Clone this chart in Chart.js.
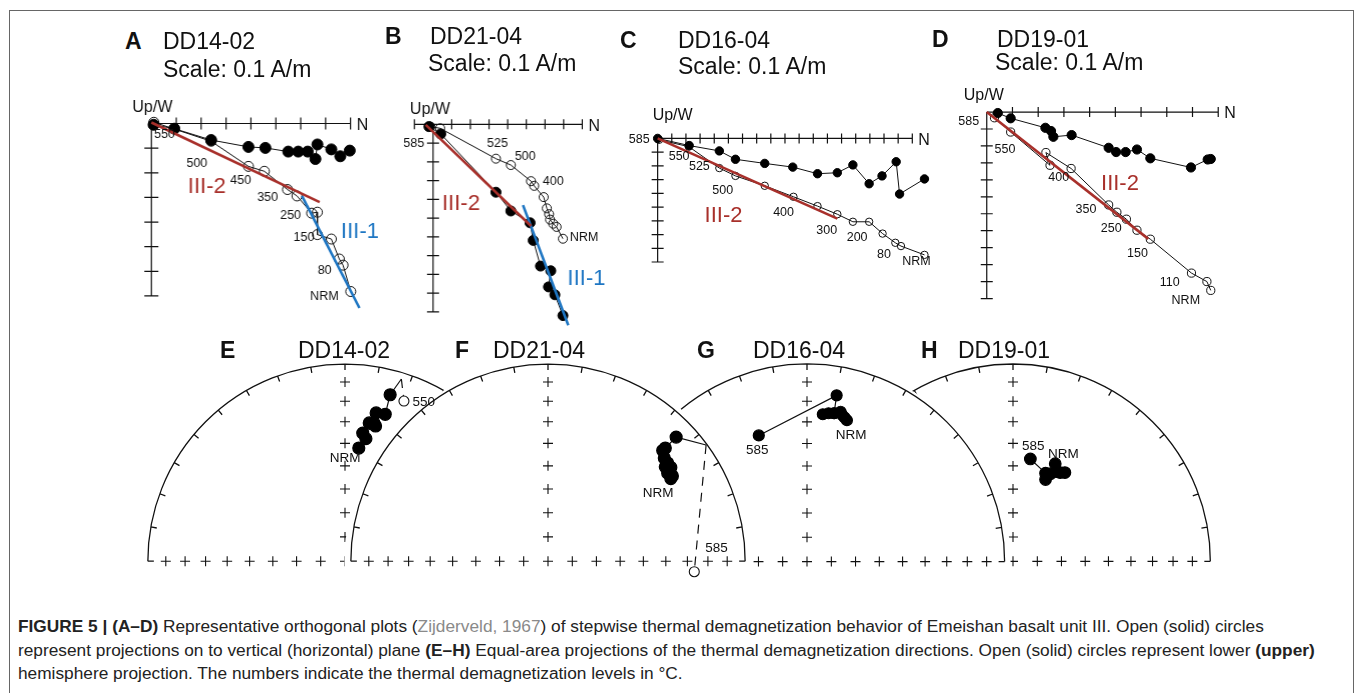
<!DOCTYPE html>
<html lang="en">
<head>
<meta charset="UTF-8">
<title>Figure 5 - thermal demagnetization</title>
<script src="https://cdn.jsdelivr.net/npm/chart.js"></script>
<style>
  body {
    margin: 0;
    width: 1355px;
    height: 693px;
    overflow: hidden;
    position: relative;
    background: #fff;
    font-family: "Liberation Sans", Arial, sans-serif;
  }
  #frame {
    position: absolute;
    left: 9px; top: 10px;
    width: 1343px; height: 720px;
    border: 1.5px solid #666;
  }
  .box { position: absolute; }
  .ttl {
    position: absolute;
    font-size: 23px;
    line-height: 23px;
    color: #111;
    white-space: nowrap;
    z-index: 20;
  }
  .ttl.bold { font-weight: bold; }
  #caption {
    position: absolute;
    left: 18px; top: 615px;
    font-size: 17.3px;
    line-height: 23.5px;
    color: #222;
    white-space: nowrap;
  }
  #caption .ref { color: #8a8a8a; }
</style>
</head>
<body>
<div id="frame"></div>

<div id="caption">
<b>FIGURE 5 | (A–D)</b> Representative orthogonal plots (<span class="ref">Zijderveld, 1967</span>) of stepwise thermal demagnetization behavior of Emeishan basalt unit III. Open (solid) circles<br>
represent projections on to vertical (horizontal) plane <b>(E–H)</b> Equal-area projections of the thermal demagnetization directions. Open (solid) circles represent lower <b>(upper)</b><br>
hemisphere projection. The numbers indicate the thermal demagnetization levels in °C.
</div>

<script>
// ---------- orthogonal (Zijderveld) plots, in axis tick units: x = N, y = Up/W (negative = down) ----------
// solid = horizontal plane, open = vertical plane
const aSolid = [[0.09,-0.05],[0.92,-0.21],[2.4,-0.67],[3.9,-0.95],[4.58,-0.99],[5.5,-1.14],[5.9,-1.14],[6.28,-1.14],[6.59,-1.44],[6.67,-0.85],[7.23,-1.05],[7.59,-1.33],[7.97,-1.1]];
const aOpen  = [[0.1,0.05],[2.4,-0.72],[3.9,-1.74],[4.54,-1.94],[5.47,-2.68],[5.85,-2.94],[6.44,-3.64],[6.67,-3.6],[6.67,-4.51],[7.23,-4.69],[7.55,-5.5],[7.7,-5.75],[8.01,-6.82]];
const aFit2  = [[0,0.04],[6.76,-3.19]];
const aFit1  = [[6.05,-2.94],[8.36,-7.49]];
const aSteps = ['550','500','450','350','250','150','80','NRM'];
const aStepAt = [[0.53,-0.44],[1.83,-1.62],[3.59,-2.33],[4.67,-3.0],[5.59,-3.74],[6.13,-4.64],[6.96,-5.97],[6.95,-7.01]];

const bSolid = [[-0.22,-0.12],[0.41,-0.51],[3.37,-3.62],[4.17,-4.62],[5.2,-5.25],[5.37,-6.19],[5.76,-7.56],[6.31,-7.81],[6.19,-8.67],[6.53,-9.09],[6.96,-10.2]];
const bOpen  = [[-0.14,-0.12],[0.38,-0.21],[3.37,-1.83],[4.17,-2.17],[5.25,-3.03],[5.42,-3.28],[5.93,-3.88],[6.1,-4.48],[6.22,-4.79],[6.27,-5.08],[6.44,-5.3],[6.62,-5.47],[6.96,-6.1]];
const bFit2  = [[-0.39,-0.03],[5.25,-5.42]];
const bFit1  = [[4.82,-4.31],[7.25,-10.72]];
const bSteps = ['585','525','500','400','NRM'];
const bStepAt = [[-1.03,-1.0],[3.45,-1.03],[4.94,-1.69],[6.44,-3.03],[8.1,-6.02]];

const cSolid = [[0,0],[2.23,-0.52],[4.36,-0.91],[5.5,-1.52],[7.57,-1.82],[9.55,-2.09],[11.3,-2.57],[12.7,-2.5],[13.8,-1.93],[14.95,-3.3],[15.86,-2.73],[16.86,-1.7],[17.1,-4.05],[18.86,-2.95]];
const cOpen  = [[0.1,-0.1],[2.2,-0.6],[4.36,-2.16],[5.5,-2.73],[7.57,-3.45],[9.6,-4.25],[11.3,-4.93],[12.7,-5.52],[13.8,-6.07],[14.95,-6.07],[15.9,-6.93],[16.8,-7.6],[17.2,-7.84],[18.86,-8.48]];
const cFit2  = [[0,0],[12.7,-5.84]];
const cSteps = ['550','525','500','400','300','200','80','NRM'];
const cStepAt = [[1.52,-1.3],[2.95,-2.05],[4.6,-3.8],[8.9,-5.39],[11.95,-6.7],[14.1,-7.2],[16.0,-8.48],[18.3,-9.0]];

const dSolid = [[0.43,-0.06],[0.93,-0.37],[2.28,-0.93],[2.5,-1.12],[2.59,-1.46],[3.3,-1.36],[4.74,-2.11],[5.03,-2.36],[5.4,-2.36],[5.84,-2.21],[6.36,-2.73],[7.94,-3.27],[8.59,-2.8],[8.71,-2.77]];
const dOpen  = [[0.3,-0.34],[0.93,-1.18],[2.46,-3.14],[2.3,-2.39],[3.28,-3.33],[4.74,-5.48],[5.06,-5.91],[5.43,-6.32],[5.84,-6.97],[6.36,-7.5],[7.96,-9.5],[8.56,-10.0],[8.71,-10.52]];
const dFit2  = [[0,0],[6.28,-7.48]];
const dSteps = ['550','400','350','250','150','110','NRM'];
const dStepAt = [[0.71,-2.2],[2.8,-3.89],[3.86,-5.76],[4.84,-6.88],[5.86,-8.37],[7.11,-10.06],[7.74,-11.14]];

// ---------- equal-area nets (projected, unit = net radius; x = E, y = N) ----------
const eUpper = [[0.07,0.59],[0.106,0.639],[0.09,0.668],[0.155,0.705],[0.123,0.721],[0.147,0.721],[0.158,0.773],[0.204,0.766],[0.229,0.868]];
const eHorizon = [[0.286,0.95]];
const eLower = [[0.299,0.835]];
const fUpper = [[0.623,0.431],[0.631,0.444],[0.607,0.46],[0.623,0.489],[0.595,0.492],[0.607,0.512],[0.59,0.538],[0.582,0.577],[0.595,0.59],[0.65,0.647]];
const fHorizon = [[0.802,0.606]];
const fLower = [[0.742,-0.055]];
const gUpper = [[0.202,0.734],[0.19,0.748],[0.178,0.761],[0.17,0.778],[0.137,0.77],[0.109,0.77],[0.08,0.765],[0.137,0.77],[0.15,0.863],[-0.244,0.655]];
const hUpper = [[0.214,0.508],[0.239,0.462],[0.263,0.462],[0.222,0.467],[0.19,0.456],[0.165,0.426],[0.165,0.459],[0.088,0.533]];

const RED = '#a8302b';
const BLUE = '#1e76c3';
const INK = '#111';
const xy = a => a.map(p => ({x: p[0], y: p[1]}));

// ---------- titles ----------
const titles = [
  ['A', 125, 49, true], ['DD14-02', 163, 49], ['Scale: 0.1 A/m', 163, 77],
  ['B', 385, 44, true], ['DD21-04', 430, 44], ['Scale: 0.1 A/m', 428, 71],
  ['C', 620, 48, true], ['DD16-04', 678, 48], ['Scale: 0.1 A/m', 678, 74],
  ['D', 932, 47, true], ['DD19-01', 997, 47], ['Scale: 0.1 A/m', 995, 70],
  ['E', 220, 358, true], ['DD14-02', 298, 358],
  ['F', 455, 358, true], ['DD21-04', 493, 358],
  ['G', 697, 358, true], ['DD16-04', 753, 358],
  ['H', 921, 358, true], ['DD19-01', 958, 358]
];
titles.forEach(([t, x, base, bold]) => {
  const d = document.createElement('div');
  d.className = 'ttl' + (bold ? ' bold' : '');
  d.textContent = t;
  d.style.left = x + 'px';
  d.style.top = (base - 19.5) + 'px';
  document.body.appendChild(d);
});

function place(left, top, w, h, z) {
  const d = document.createElement('div');
  d.className = 'box';
  d.style.cssText = `left:${left}px;top:${top}px;width:${w}px;height:${h}px;z-index:${z}`;
  const c = document.createElement('canvas');
  d.appendChild(c);
  document.body.appendChild(d);
  return c;
}

// crossed axes with ticks, Up/W and N, step labels
const zijAxes = {
  id: 'zijAxes',
  beforeDatasetsDraw(chart, args, o) {
    const {ctx, scales: {x, y}} = chart;
    const X = v => x.getPixelForValue(v), Y = v => y.getPixelForValue(v);
    ctx.save();
    ctx.strokeStyle = INK;
    ctx.lineWidth = 1.2;
    ctx.beginPath();
    ctx.moveTo(X(o.hFrom), Y(0)); ctx.lineTo(X(o.hTo), Y(0));
    ctx.moveTo(X(0), Y(0)); ctx.lineTo(X(0), Y(-o.vTo));
    for (let i = o.hFrom; i <= o.hTo; i++) {
      if (i === 0) continue;
      ctx.moveTo(X(i), Y(0) - o.tick); ctx.lineTo(X(i), Y(0) + o.tick);
    }
    for (let j = 1; j <= o.vTo; j++) {
      ctx.moveTo(X(0) - o.tick - 1, Y(-j)); ctx.lineTo(X(0) + o.tick + 1, Y(-j));
    }
    ctx.stroke();
    ctx.fillStyle = INK;
    ctx.font = '16px "Liberation Sans", Arial';
    ctx.textBaseline = 'alphabetic';
    ctx.textAlign = 'center';
    ctx.fillText('Up/W', X(0) + o.upW[0], Y(0) + o.upW[1]);
    ctx.textAlign = 'left';
    ctx.textBaseline = 'middle';
    ctx.fillText('N', X(o.hTo) + 6, Y(0) + 2);
    ctx.restore();
  },
  afterDatasetsDraw(chart, args, o) {
    const {ctx, scales: {x, y}} = chart;
    ctx.save();
    ctx.textAlign = 'center';
    ctx.textBaseline = 'middle';
    ctx.fillStyle = INK;
    ctx.font = '12.5px "Liberation Sans", Arial';
    o.steps.forEach((t, i) => {
      ctx.fillText(t, x.getPixelForValue(o.stepAt[i][0]), y.getPixelForValue(o.stepAt[i][1]));
    });
    if (o.origin) ctx.fillText(o.origin[0], x.getPixelForValue(o.origin[1]), y.getPixelForValue(o.origin[2]));
    ctx.font = '22px "Liberation Sans", Arial';
    o.comps.forEach(([t, cx, cy, col]) => {
      ctx.fillStyle = col;
      ctx.fillText(t, x.getPixelForValue(cx), y.getPixelForValue(cy));
    });
    ctx.restore();
  }
};

function zijChart(p) {
  const left = p.ox + p.xr[0] * p.ux, top = p.oy - p.yr[1] * p.uy;
  const w = (p.xr[1] - p.xr[0]) * p.ux, h = (p.yr[1] - p.yr[0]) * p.uy;
  const canvas = place(left, top, w, h, 5);
  const datasets = [
    { data: xy(p.open), showLine: true, borderColor: INK, borderWidth: 1, pointRadius: p.r - 0.5,
      pointBackgroundColor: 'rgba(255,255,255,0)', pointBorderColor: INK, pointBorderWidth: 1, order: 3 },
    { data: xy(p.solid), showLine: true, borderColor: INK, borderWidth: 1, pointRadius: p.r,
      pointBackgroundColor: '#000', pointBorderColor: '#000', order: 2 }
  ];
  p.fits.forEach(([d, col]) => datasets.push({
    data: xy(d), showLine: true, borderColor: col, borderWidth: 2.6, pointRadius: 0, order: 1
  }));
  new Chart(canvas, {
    type: 'scatter',
    data: { datasets },
    options: {
      responsive: true, maintainAspectRatio: false, animation: false, events: [],
      layout: { padding: 0 },
      scales: {
        x: { type: 'linear', display: false, min: p.xr[0], max: p.xr[1] },
        y: { type: 'linear', display: false, min: p.yr[0], max: p.yr[1] }
      },
      plugins: { legend: { display: false }, tooltip: { enabled: false }, zijAxes: p.axes }
    },
    plugins: [zijAxes]
  });
}

zijChart({ ox: 146, oy: 118.5, ux: 26, uy: 26, xr: [-1.2, 9.6], yr: [-8.2, 1.3], r: 5.5,
  solid: aSolid, open: aOpen, fits: [[aFit2, RED], [aFit1, BLUE]],
  axes: { hFrom: 0, hTo: 8, vTo: 7, tick: 6, upW: [1, -12], steps: aSteps, stepAt: aStepAt,
    comps: [['III-2', 2.23, -2.58, RED], ['III-1', 8.38, -4.4, BLUE]] } });

zijChart({ ox: 429.3, oy: 119.3, ux: 19.6, uy: 19.7, xr: [-2.2, 9.4], yr: [-11.3, 1.3], r: 5,
  solid: bSolid, open: bOpen, fits: [[bFit2, RED], [bFit1, BLUE]],
  axes: { hFrom: -1, hTo: 8, vTo: 10, tick: 5, upW: [-3, -10], steps: bSteps, stepAt: bStepAt,
    comps: [['III-2', 1.5, -4.22, RED], ['III-1', 8.22, -8.24, BLUE]] } });

zijChart({ ox: 653.3, oy: 135, ux: 14.6, uy: 14.6, xr: [-3, 20], yr: [-9.8, 2.2], r: 4.2,
  solid: cSolid, open: cOpen, fits: [[cFit2, RED]],
  axes: { hFrom: 0, hTo: 18, vTo: 9, tick: 5, upW: [15, -18], steps: cSteps, stepAt: cStepAt,
    origin: ['585', -1.3, -0.07], comps: [['III-2', 4.66, -5.61, RED]] } });

zijChart({ ox: 982.7, oy: 107.3, ux: 26.7, uy: 17.8, xr: [-1.6, 9.8], yr: [-11.8, 1.5], r: 4.6,
  solid: dSolid, open: dOpen, fits: [[dFit2, RED]],
  axes: { hFrom: 0, hTo: 9, vTo: 11, tick: 5, upW: [-3, -12], steps: dSteps, stepAt: dStepAt,
    origin: ['585', -0.7, -0.56], comps: [['III-2', 5.18, -4.26, RED]] } });

// ---------- equal-area net grid ----------
const R = 204, NET_Y = 567;
const netGrid = {
  id: 'netGrid',
  beforeDatasetsDraw(chart, args, o) {
    const {ctx, scales: {x, y}} = chart;
    const cx = x.getPixelForValue(0), cy = y.getPixelForValue(0);
    const r = x.getPixelForValue(1) - cx;
    ctx.save();
    // hide the parts lying under a neighbouring net
    ctx.beginPath();
    ctx.rect(0, 0, chart.width, chart.height);
    o.covers.forEach(dx => {
      const ox = x.getPixelForValue(dx);
      ctx.moveTo(ox + r - 0.5, cy);
      ctx.arc(ox, cy, r - 0.5, 0, Math.PI * 2);
    });
    ctx.clip('evenodd');
    ctx.strokeStyle = INK;
    ctx.lineWidth = 1.3;
    ctx.beginPath();
    ctx.arc(cx, cy, r, Math.PI, Math.PI * 2);
    for (let az = -90; az <= 90; az += 10) {
      const a = az * Math.PI / 180;
      ctx.moveTo(cx + r * Math.sin(a), cy - r * Math.cos(a));
      ctx.lineTo(cx + (r - 6) * Math.sin(a), cy - (r - 6) * Math.cos(a));
    }
    ctx.stroke();
    ctx.lineWidth = 1.1;
    ctx.beginPath();
    const cross = (px, py) => {
      ctx.moveTo(px - 5, py); ctx.lineTo(px + 5, py);
      ctx.moveTo(px, py - 5); ctx.lineTo(px, py + 5);
    };
    cross(cx, cy);
    for (let k = 1; k <= 8; k++) {
      const d = r * Math.SQRT2 * Math.sin(k * 5 * Math.PI / 180);
      cross(cx - d, cy); cross(cx + d, cy); cross(cx, cy - d);
    }
    ctx.stroke();
    ctx.restore();
  },
  afterDatasetsDraw(chart, args, o) {
    const {ctx, scales: {x, y}} = chart;
    ctx.save();
    ctx.fillStyle = INK;
    ctx.font = '13.5px "Liberation Sans", Arial';
    ctx.textAlign = 'center';
    ctx.textBaseline = 'middle';
    o.labels.forEach(([t, u, v]) => ctx.fillText(t, x.getPixelForValue(u), y.getPixelForValue(v)));
    ctx.restore();
  }
};

function netChart(p) {
  const pad = 214 / R;
  const canvas = place(p.cx - 214, 350, 428, 240, p.z);
  const datasets = [
    { data: xy(p.upper), showLine: true, borderColor: INK, borderWidth: 1.2, pointRadius: p.r,
      pointBackgroundColor: '#000', pointBorderColor: '#000', order: 1 }
  ];
  if (p.horizon) {
    const last = p.upper[p.upper.length - 1];
    datasets.push({ data: xy([last, p.horizon[0]]), showLine: true, borderColor: INK, borderWidth: 1.2, pointRadius: 0, order: 2 });
    datasets.push({ data: xy([p.horizon[0], p.lower[0]]), showLine: true, borderColor: INK, borderWidth: 1.2,
      borderDash: [9, 7], pointRadius: 0, order: 2 });
    datasets.push({ data: xy(p.lower), showLine: false, pointRadius: 5, pointBorderColor: INK, pointBorderWidth: 1.1,
      pointBackgroundColor: '#fff', order: 0 });
  }
  new Chart(canvas, {
    type: 'scatter',
    data: { datasets },
    options: {
      responsive: true, maintainAspectRatio: false, animation: false, events: [],
      layout: { padding: 0 },
      scales: {
        x: { type: 'linear', display: false, min: -pad, max: pad },
        y: { type: 'linear', display: false, min: -(590 - NET_Y) / R, max: (NET_Y - 350) / R }
      },
      plugins: { legend: { display: false }, tooltip: { enabled: false },
        netGrid: { covers: p.covers.map(c => (c - p.cx) / R), labels: p.labels } }
    },
    plugins: [netGrid]
  });
}

netChart({ cx: 345, z: 1, r: 6, upper: eUpper, horizon: eHorizon, lower: eLower, covers: [548],
  labels: [['550', 0.4, 0.828], ['NRM', 0.0, 0.539]] });
netChart({ cx: 548, z: 3, r: 6, upper: fUpper, horizon: fHorizon, lower: fLower, covers: [],
  labels: [['NRM', 0.559, 0.353], ['585', 0.855, 0.069]] });
netChart({ cx: 807, z: 2, r: 5.5, upper: gUpper, covers: [548],
  labels: [['NRM', 0.223, 0.657], ['585', -0.252, 0.578]] });
netChart({ cx: 1013, z: 1, r: 5.8, upper: hUpper, covers: [807],
  labels: [['585', 0.103, 0.598], ['NRM', 0.255, 0.559]] });
</script>
</body>
</html>
